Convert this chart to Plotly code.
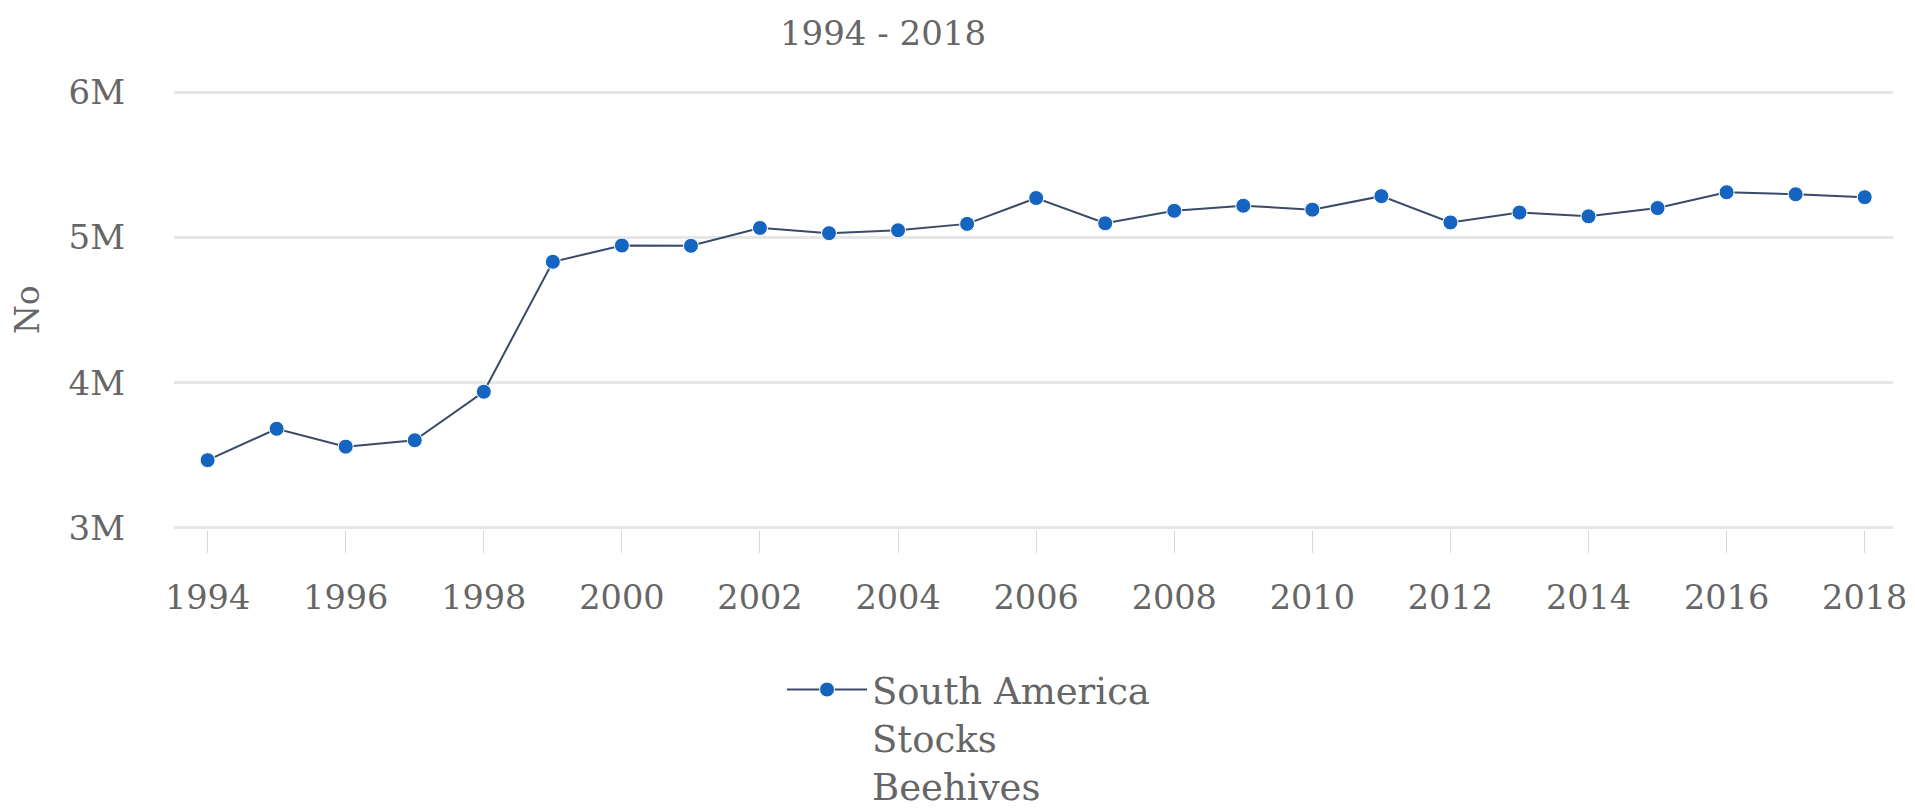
import plotly.graph_objects as go

years = list(range(1994, 2019))
beehives = [3.466e6, 3.682e6, 3.559e6, 3.603e6, 3.937e6, 4.832e6, 4.944e6, 4.942e6,
            5.065e6, 5.029e6, 5.049e6, 5.093e6, 5.271e6, 5.097e6, 5.183e6, 5.218e6,
            5.191e6, 5.284e6, 5.103e6, 5.171e6, 5.145e6, 5.202e6, 5.311e6, 5.297e6, 5.277e6]
series_name = "South America<br>Stocks<br>Beehives"
title_text = "1994 - 2018"
y_title = "No"
y_ticks = [3e6, 4e6, 5e6, 6e6]
y_ticktext = ["3M", "4M", "5M", "6M"]
x_ticks = list(range(1994, 2019, 2))

FONT = "DejaVu Serif"
GREY = "#666666"
W, H = 1899, 796  # page body has an 8px default margin

fig = go.Figure()
fig.add_trace(go.Scatter(
    x=years, y=beehives, mode="lines+markers", name=series_name,
    line=dict(color="#3a4a68", width=2),
    marker=dict(color="#1565c0", size=15, line=dict(color="white", width=1)),
    showlegend=True,
))

fig.add_annotation(text=y_title, xref="paper", yref="paper", x=0, y=0.5,
                   xanchor="center", yanchor="middle", showarrow=False, textangle=-90,
                   xshift=19 - 166, font=dict(family=FONT, size=33, color=GREY))

fig.update_layout(
    width=W, height=H,
    paper_bgcolor="white", plot_bgcolor="white",
    margin=dict(l=166, r=14, t=82, b=274, autoexpand=False),
    font=dict(family=FONT, color=GREY, size=34),
    title=dict(text=title_text, x=875/W, xanchor="center", y=1-25/H, yanchor="middle",
               xref="container", yref="container",
               font=dict(family=FONT, size=34, color=GREY)),
    xaxis=dict(range=[1993.513, 2018.41], tickvals=x_ticks, showgrid=False, zeroline=False,
               showline=False, ticks="outside", ticklen=22, tickwidth=1, tickcolor="#d8d8d8",
               ticklabelstandoff=16, tickangle=0, ticklabeloverflow="allow",
               tickfont=dict(family=FONT, size=33.5, color=GREY)),
    yaxis=dict(range=[2.985e6, 6.015e6], tickvals=y_ticks, ticktext=y_ticktext, showgrid=True,
               gridcolor="#e6e6e6", gridwidth=3, zeroline=False, showline=False,
               ticks="", ticklabelstandoff=48,
               tickfont=dict(family=FONT, size=34, color=GREY)),
    legend=dict(orientation="v", xref="container", yref="container",
                x=774/W, xanchor="left", y=1-651/H, yanchor="top",
                valign="top", itemwidth=80, font=dict(family=FONT, size=37, color=GREY),
                bgcolor="rgba(0,0,0,0)"),
)

fig.write_html("out.html")
